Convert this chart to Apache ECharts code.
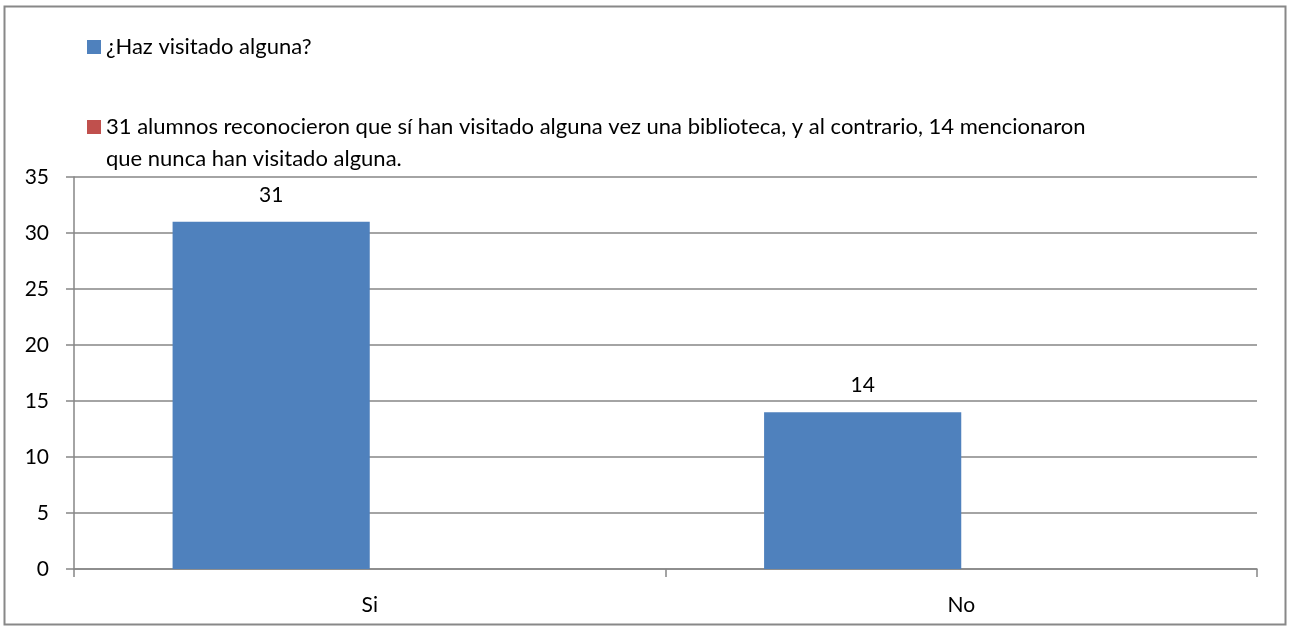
<!DOCTYPE html>
<html>
<head>
<meta charset="utf-8">
<script src="https://cdn.jsdelivr.net/npm/echarts@6/dist/echarts.min.js"></script>
<style>
html,body{margin:0;padding:0;background:#fff;}
#chart{width:1290px;height:632px;}
</style>
</head>
<body>
<div id="chart"></div>
<script>
const categories = ['Si', 'No'];
const series1Name = '¿Haz visitado alguna?';
const series1Values = [31, 14];
const series2Name = '31 alumnos reconocieron que sí han visitado alguna vez una biblioteca, y al contrario, 14 mencionaron que nunca han visitado alguna.';
const series2Values = [null, null];
const yMin = 0, yMax = 35, yInterval = 5;

const FONT = 'Lato';
const FS = 22;
const NFS = 21;
const LH = 32;

const chart = echarts.init(document.getElementById('chart'), null, {renderer: 'canvas'});
chart.setOption({
  animation: false,
  backgroundColor: '#fff',
  textStyle: {fontFamily: FONT, color: '#000'},
  graphic: [{
    type: 'rect',
    shape: {x: 4.5, y: 6.5, width: 1281, height: 618},
    style: {fill: 'none', stroke: '#888', lineWidth: 2},
    silent: true
  }],
  legend: [{
    data: [series1Name],
    orient: 'vertical',
    left: 87, top: 31,
    padding: 0,
    itemWidth: 14, itemHeight: 14,
    icon: 'rect',
    textStyle: {fontFamily: FONT, fontSize: FS, color: '#000', lineHeight: LH},
    selectedMode: false
  }, {
    data: [series2Name],
    orient: 'vertical',
    left: 87, top: 79,
    padding: 0,
    itemWidth: 14, itemHeight: 14,
    icon: 'rect',
    textStyle: {fontFamily: FONT, fontSize: FS, color: '#000', lineHeight: LH},
    formatter: function (n) { return '\n' + n.replace('mencionaron ', 'mencionaron\n'); },
    selectedMode: false
  }],
  grid: {left: 74, right: 33, top: 177, bottom: 63, containLabel: false},
  xAxis: {
    type: 'category',
    data: categories,
    axisLine: {lineStyle: {color: '#868686', width: 1.5}},
    axisTick: {show: true, length: 8, lineStyle: {color: '#868686', width: 1.5}},
    axisLabel: {fontFamily: FONT, fontSize: NFS, color: '#000', margin: 26}
  },
  yAxis: {
    type: 'value',
    min: yMin, max: yMax, interval: yInterval,
    axisLine: {show: true, lineStyle: {color: '#868686', width: 1.5}},
    axisTick: {show: true, length: 8, lineStyle: {color: '#868686', width: 1.5}},
    splitLine: {lineStyle: {color: '#868686', width: 1.5}},
    axisLabel: {fontFamily: FONT, fontSize: NFS, color: '#000', margin: 25}
  },
  series: [{
    name: series1Name,
    type: 'bar',
    data: series1Values,
    itemStyle: {color: '#4F81BD'},
    barGap: '0%',
    barCategoryGap: '33.333%',
    label: {show: true, position: 'top', distance: 16, fontFamily: FONT, fontSize: NFS, color: '#000'}
  }, {
    name: series2Name,
    type: 'bar',
    data: series2Values,
    itemStyle: {color: '#C0504D'},
    barGap: '0%',
    barCategoryGap: '33.333%'
  }]
});
</script>
</body>
</html>
